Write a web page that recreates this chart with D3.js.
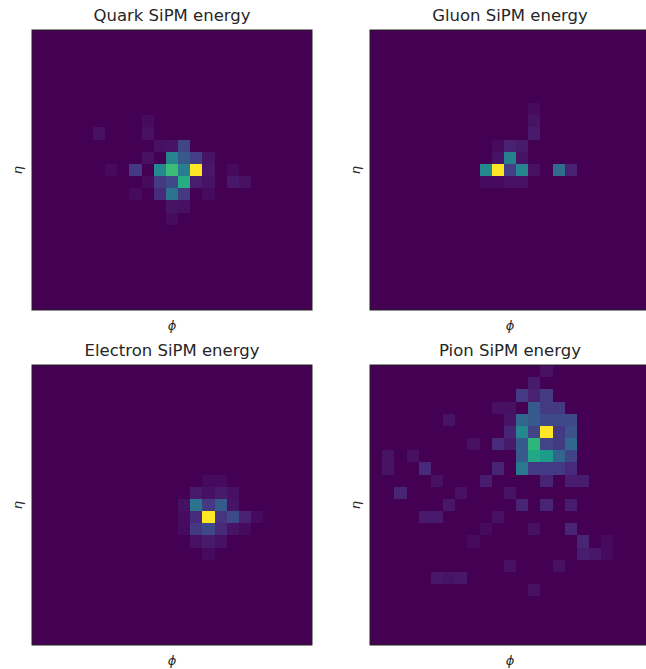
<!doctype html>
<html>
  <head>
    <script src="https://cdn.jsdelivr.net/npm/d3@7"></script>
    <style>
    body { margin: 0; background: #fff; }
    text { font-family: "DejaVu Sans", sans-serif; fill: #262626; }
    .title { font-size: 16.5px; }
    .axlab { font-size: 13px; font-style: italic; }
    </style>
  </head>
  <body>
    <script>
      var w_svg = 646;
      var h_svg = 669;
      var n_bins = 23;

      // panel titles
      var titles = ["Quark SiPM energy", "Gluon SiPM energy", "Electron SiPM energy", "Pion SiPM energy"];

      // sparse cells [eta row, phi col, normalised energy], rest is 0
      var quark = [[11,13,1.0],[11,11,0.68],[11,10,0.47],[11,12,0.42],[10,11,0.45],[10,12,0.28],[10,13,0.18],
        [9,12,0.2],[12,10,0.17],[12,11,0.22],[12,12,0.62],[13,10,0.12],[13,11,0.38],[13,12,0.17],[11,8,0.17],
        [12,13,0.08],[11,14,0.06],[9,11,0.05],[9,10,0.04],[8,9,0.04],[7,9,0.03],[10,9,0.04],[12,9,0.03],
        [14,11,0.05],[14,12,0.04],[12,16,0.06],[12,17,0.04],[11,16,0.03],[8,5,0.04],[13,8,0.03],[11,6,0.03],
        [10,14,0.05],[13,14,0.03],[12,14,0.05],[15,11,0.03],[9,10,0.04]];

      var gluon = [[11,10,1.0],[11,9,0.47],[11,11,0.18],[11,12,0.45],[10,11,0.43],[9,11,0.09],[9,12,0.07],
        [10,10,0.05],[10,12,0.05],[8,13,0.07],[7,13,0.05],[11,15,0.35],[11,16,0.09],[12,10,0.03],[12,11,0.04],
        [12,12,0.04],[11,13,0.04],[9,10,0.03],[6,13,0.03],[12,9,0.03]];

      var electron = [[12,14,1.0],[11,13,0.38],[11,14,0.17],[11,15,0.28],[12,13,0.12],[12,15,0.15],[12,16,0.22],
        [12,17,0.09],[13,13,0.17],[13,14,0.22],[13,15,0.12],[13,16,0.05],[10,13,0.07],[10,14,0.04],[10,15,0.07],
        [10,16,0.04],[14,13,0.04],[14,14,0.07],[14,15,0.04],[9,14,0.03],[9,15,0.03],[11,12,0.04],[12,12,0.03],
        [13,12,0.03],[11,16,0.05],[12,18,0.03],[15,14,0.03],[13,17,0.03]];

      var pion = [[5,14,1.0],[6,13,0.65],[7,13,0.6],[7,14,0.55],[7,15,0.33],[5,12,0.47],[4,12,0.33],[6,12,0.28],
        [7,12,0.28],[8,12,0.4],[4,13,0.28],[4,14,0.22],[4,15,0.22],[4,16,0.22],[3,13,0.28],[3,14,0.17],[3,15,0.17],
        [2,12,0.17],[2,13,0.09],[2,14,0.17],[1,13,0.07],[0,14,0.04],[5,13,0.2],[5,15,0.17],[5,16,0.25],[6,14,0.2],
        [6,15,0.17],[6,16,0.33],[7,16,0.2],[8,13,0.17],[8,14,0.17],[8,15,0.17],[8,16,0.12],[9,14,0.1],[9,16,0.08],
        [9,17,0.08],[5,11,0.1],[6,11,0.07],[4,11,0.05],[3,11,0.04],
        [6,10,0.12],[8,10,0.1],[8,4,0.12],[10,2,0.1],[7,1,0.05],[8,1,0.05],[9,9,0.08],[11,6,0.06],[11,12,0.1],
        [11,14,0.1],[11,16,0.08],[12,4,0.07],[12,5,0.07],[13,16,0.1],[14,17,0.1],[15,17,0.08],[15,18,0.06],
        [17,5,0.06],[17,6,0.05],[17,7,0.06],[4,6,0.05],[6,8,0.04],[7,3,0.04],[10,7,0.04],[13,9,0.03],[16,11,0.04],
        [18,13,0.04],[14,8,0.03],[3,10,0.04],[9,5,0.04],[10,11,0.05],[12,10,0.04],[13,13,0.04],[16,15,0.04],
        [14,19,0.03],[15,19,0.03]];

      var panels = [quark, gluon, electron, pion];

      // layout of the 2x2 grid
      var size = 280;
      var lefts = [32, 370];
      var tops = [30, 365];

      var svg = d3.select("body").append("svg")
                  .attr("width", w_svg)
                  .attr("height", h_svg);

      var color = d3.scaleSequential(d3.interpolateViridis).domain([0, 1]);
      var x = d3.scaleBand().domain(d3.range(n_bins)).range([0, size]);
      var y = d3.scaleBand().domain(d3.range(n_bins)).range([0, size]);

      panels.forEach(function(cells, p) {
        var ox = lefts[p % 2], oy = tops[Math.floor(p / 2)];

        // fill full grid from sparse list
        var grid = [];
        for (var r = 0; r < n_bins; r++)
          for (var c = 0; c < n_bins; c++) grid.push({r: r, c: c, v: 0});
        cells.forEach(function(d) { grid[d[0] * n_bins + d[1]].v = d[2]; });

        var g = svg.append("g").attr("transform", "translate(" + ox + "," + oy + ")");

        // background first so no seams show between cells
        g.append("rect")
         .attr("width", size).attr("height", size)
         .attr("fill", color(0));

        g.selectAll("rect.cell")
         .data(grid.filter(function(d) { return d.v > 0; }))
         .enter().append("rect")
         .attr("class", "cell")
         .attr("x", function(d) { return x(d.c); })
         .attr("y", function(d) { return y(d.r); })
         .attr("width", x.bandwidth())
         .attr("height", y.bandwidth())
         .attr("shape-rendering", "crispEdges")
         .attr("fill", function(d) { return color(d.v); });

        g.append("rect")
         .attr("width", size).attr("height", size)
         .attr("fill", "none").attr("stroke", "#222").attr("stroke-width", 1);

        g.append("text").attr("class", "title")
         .attr("x", size / 2).attr("y", -9)
         .attr("text-anchor", "middle")
         .text(titles[p]);

        g.append("text").attr("class", "axlab")
         .attr("x", size / 2).attr("y", size + 20)
         .attr("text-anchor", "middle")
         .text("\u03d5");

        g.append("text").attr("class", "axlab")
         .attr("transform", "translate(-10," + (size / 2) + ") rotate(-90)")
         .attr("text-anchor", "middle")
         .text("\u03b7");
      });
    </script>
  </body>
</html>
